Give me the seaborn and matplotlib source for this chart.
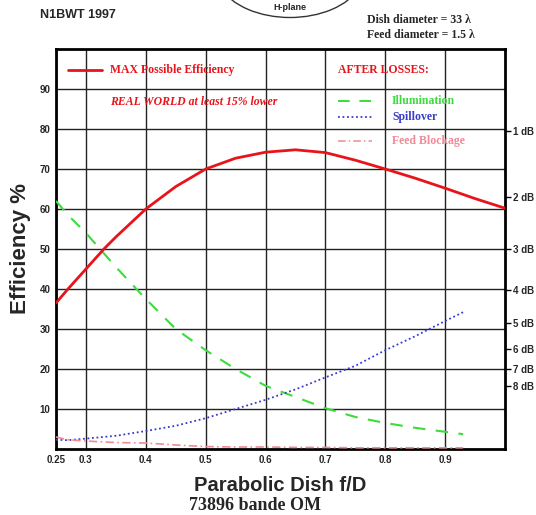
import numpy as np
import matplotlib
matplotlib.use("Agg")
import matplotlib.pyplot as plt
import seaborn as sns
from matplotlib.patches import Arc

sns.set_theme(style="white")
plt.rcParams['font.family'] = ['Liberation Sans', 'DejaVu Sans']

# ---- data ----
fd_max = [0.25, 0.27, 0.30, 0.33, 0.35, 0.375, 0.40, 0.45, 0.50, 0.55, 0.60, 0.65, 0.70, 0.75, 0.80, 0.85, 0.90, 0.95, 1.00]
eff_max = [36.5, 40.0, 45.0, 50.0, 53.0, 56.5, 60.0, 65.6, 70.0, 72.7, 74.2, 74.8, 74.1, 72.2, 70.0, 67.7, 65.2, 62.6, 60.2]

fd_loss = [0.25, 0.27, 0.30, 0.35, 0.40, 0.45, 0.50, 0.55, 0.60, 0.65, 0.70, 0.75, 0.80, 0.85, 0.90, 0.93]
illumination = [62.0, 58.5, 54.0, 45.5, 37.5, 30.0, 24.7, 20.0, 15.8, 13.0, 10.2, 8.0, 6.5, 5.3, 4.3, 3.7]
spillover = [2.3, 2.2, 2.6, 3.3, 4.5, 5.8, 7.7, 10.0, 12.3, 14.9, 17.9, 20.8, 24.7, 28.2, 32.0, 34.2]
blockage = [3.0, 2.3, 2.0, 1.6, 1.5, 1.0, 0.6, 0.5, 0.5, 0.4, 0.4, 0.3, 0.3, 0.3, 0.3, 0.3]

x_ticks = [0.25, 0.3, 0.4, 0.5, 0.6, 0.7, 0.8, 0.9]
x_tick_labels = ["0.25", "0.3", "0.4", "0.5", "0.6", "0.7", "0.8", "0.9"]
y_ticks = [10, 20, 30, 40, 50, 60, 70, 80, 90]
db_losses = [1, 2, 3, 4, 5, 6, 7, 8]

RED = "#e8141c"
GREEN = "#3ddc3d"
BLUE = "#3a3acc"
PINK = "#f08a96"

fig = plt.figure(figsize=(5.36, 5.15), dpi=100)
ax = fig.add_axes([56/536, 1-449/515, (505-56)/536, (449-49)/515])

sns.lineplot(x=fd_max, y=eff_max, ax=ax, color=RED, lw=2.0, zorder=5)
sns.lineplot(x=fd_loss, y=illumination, ax=ax, color=GREEN, lw=1.5, zorder=4)
ax.lines[-1].set_dashes([6, 5])
sns.lineplot(x=fd_loss, y=spillover, ax=ax, color=BLUE, lw=1.3, zorder=4)
ax.lines[-1].set_dashes([1, 1.5])
sns.lineplot(x=fd_loss, y=blockage, ax=ax, color=PINK, lw=1.2, zorder=4)
ax.lines[-1].set_dashes([5, 2, 1, 2])

ax.set_xlim(0.25, 1.0)
ax.set_ylim(0, 100)
ax.set_xticks(x_ticks)
ax.set_xticklabels(x_tick_labels, fontsize=7, fontweight='bold')
ax.set_yticks(y_ticks)
ax.set_yticklabels([str(v) for v in y_ticks], fontsize=7, fontweight='bold')
ax.tick_params(axis='both', length=0, pad=4)
ax.xaxis.grid(True, color='#222222', lw=1.0)
ax.yaxis.grid(True, color='#222222', lw=1.0)
for s in ax.spines.values():
    s.set_color('black')
    s.set_linewidth(2.0)
ax.set_xlabel("Parabolic Dish f/D", fontsize=14.5, fontweight='bold', labelpad=8)
ax.set_ylabel("Efficiency %", fontsize=16, fontweight='bold', labelpad=6)

ax2 = ax.twinx()
ax2.set_ylim(0, 100)
db_pos = [100 * 10 ** (-d / 10) for d in db_losses]
ax2.set_yticks(db_pos)
ax2.set_yticklabels([f"{d} dB" for d in db_losses], fontsize=7, fontweight='bold')
ax2.tick_params(axis='y', length=4, width=1, color='black', pad=2, direction='out')
ax2.grid(False)
for s in ax2.spines.values():
    s.set_visible(False)

# legend-like annotations inside the plot
T = ax.transAxes
def fx(px):
    return (px - 56) / (505 - 56)
def fy(py):
    return (449 - py) / (449 - 49)

ax.plot([fx(68), fx(102)], [fy(70), fy(70)], transform=T, color=RED, lw=2.0, clip_on=False)
ax.text(fx(110), fy(70), "MAX Possible Efficiency", transform=T, color=RED,
        fontsize=8.5, fontweight='bold', family='Liberation Serif', va='center')
ax.text(fx(110), fy(102), "REAL WORLD at least 15% lower", transform=T, color=RED,
        fontsize=8.5, fontweight='bold', style='italic', family='Liberation Serif', va='center')
ax.text(fx(338), fy(70), "AFTER LOSSES:", transform=T, color=RED,
        fontsize=8.5, fontweight='bold', family='Liberation Serif', va='center')

l1, = ax.plot([fx(338), fx(372)], [fy(101), fy(101)], transform=T, color=GREEN, lw=1.4)
l1.set_dashes([6, 5])
ax.text(fx(392), fy(101), "Illumination", transform=T, color=GREEN,
        fontsize=8.5, fontweight='bold', family='Liberation Serif', va='center')
l2, = ax.plot([fx(338), fx(372)], [fy(117), fy(117)], transform=T, color=BLUE, lw=1.3)
l2.set_dashes([1, 1.5])
ax.text(fx(392), fy(117), "Spillover", transform=T, color=BLUE,
        fontsize=8.5, fontweight='bold', family='Liberation Serif', va='center')
l3, = ax.plot([fx(338), fx(372)], [fy(141), fy(141)], transform=T, color=PINK, lw=1.1)
l3.set_dashes([5, 2, 1, 2])
ax.text(fx(392), fy(141), "Feed Blockage", transform=T, color=PINK,
        fontsize=8.5, fontweight='bold', family='Liberation Serif', va='center')

# header texts
fig.text(40/536, 1-15/515, "N1BWT 1997", fontsize=9, fontweight='bold', va='center', ha='left')
fig.text(290/536, 1-7/515, "H-plane", fontsize=6.5, fontweight='bold', va='center', ha='center')
arc = Arc((290/536, 1-(-30)/515), 150/536, 95/515, theta1=195, theta2=345,
          transform=fig.transFigure, color='#333333', lw=1.0)
fig.add_artist(arc)
fig.text(367/536, 1-20/515, "Dish diameter = 33 \u03bb", fontsize=8.5, fontweight='bold',
         family='Liberation Serif', va='center', ha='left')
fig.text(367/536, 1-35/515, "Feed diameter = 1.5 \u03bb", fontsize=8.5, fontweight='bold',
         family='Liberation Serif', va='center', ha='left')
fig.text(255/536, 1-505/515, "73896 bande OM", fontsize=13, fontweight='bold',
         family='Liberation Serif', va='center', ha='center')

fig.savefig("out.png", dpi=100)
